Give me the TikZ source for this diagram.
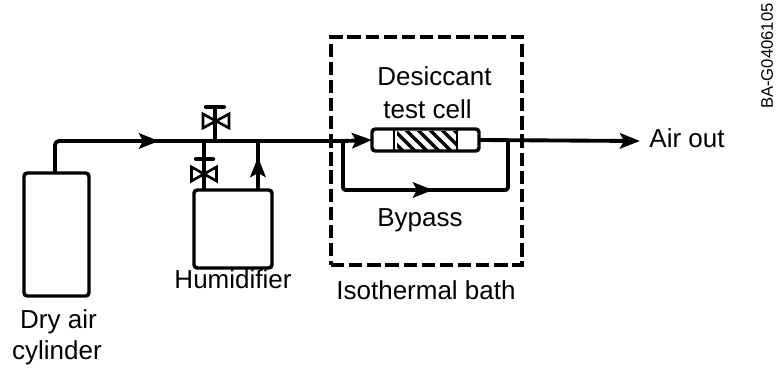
\documentclass[tikz,border=0pt]{standalone}
\usepackage{fontspec}
\setmainfont{Liberation Sans}
\usetikzlibrary{arrows.meta,calc}
\tikzset{
 pipe/.style={line width=2.9pt,line join=round},
 tipst/.style={-{Stealth[length=15pt,width=11.5pt,inset=3pt]}},
 flow/.style={pipe,tipst},
 vessel/.style={draw,line width=2.6pt,rounded corners=2.5pt,minimum width=#1,inner sep=0pt,outer sep=0pt},
 lab/.style={font=\fontsize{19.5}{24}\selectfont,anchor=base,inner sep=0pt},
 bow/.style={draw,line width=2pt,fill=white,line join=miter},
 bar/.style={line width=3.2pt,line cap=round},
 stem/.style={line width=2.6pt}
}
\begin{document}
\begin{tikzpicture}[x=0.75pt,y=-0.75pt]
\useasboundingbox (0,0) rectangle (777,371);
% dashed bath
\node[draw,line width=2.6pt,dash pattern=on 10pt off 3.6pt,minimum width=143.25pt,minimum height=171pt,inner sep=0pt] (bath) at (426.5,151) {};
% vessels
\node[vessel=48.75pt,minimum height=92.25pt] (cyl) at (56.5,234.5) {};
\node[vessel=58.5pt,minimum height=58.5pt] (hum) at (233,229) {};
% junctions
\coordinate (corner) at (55,141);
\coordinate (j0) at (343,141);
\coordinate (j1) at (508,141);
\coordinate (air) at (640,141);
\coordinate (cylTop) at (55,173);
\coordinate (j2) at (204,141);
\coordinate (j3) at (215,141);
\coordinate (j4) at (258,141);
\coordinate (h1) at (204,190);
\coordinate (h2) at (258,190);
% main pipe
\draw[pipe,rounded corners=3pt] (cylTop) -- (corner) -- (j0);
\draw[flow] (130,141) -- (159,141);
\draw[pipe] (j4) -- (h2);
\draw[flow] (h2) -- (258,157);
% cell
\node[vessel=80.25pt,minimum height=16.5pt,fill=white] (cell) at (425.5,140) {};
\begin{scope}
\clip (397,131) rectangle (457,149.5);
\foreach \h in {380,392,...,470} \draw[line width=2.4pt] (\h,128) -- (\h+24,152);
\end{scope}
\draw[line width=1.5pt] (394,130) -- (394,150) (457,130) -- (457,150);
\draw[flow] (j0) -- (cell.west);
\draw[flow] (cell.east) -- (air);
\draw[pipe,rounded corners=2pt] (j0) -- (343,190) -- (508,190) -- (j1);
\draw[flow] (400,190) -- (433,190);
% top valve
\draw[stem] (j3) -- (215,107);
\draw[bar] (206,107) -- (224,107);
\draw[bow] (203,114) -- (229,128) -- (229,114) -- (203,128) -- cycle;
% lower valve
\draw[stem] (j2) -- (h1);
\draw[bar] (196,159) -- (213,159);
\draw[bow] (191.5,167) -- (216.5,181) -- (216.5,167) -- (191.5,181) -- cycle;
% labels
\node[lab] (t1) at (434.5,85) {Desiccant};
\node[lab] (t1b) at (427.5,118) {test cell};
\node[lab] (t2) at (420,226) {Bypass};
\node[lab] (t3) at (687,147.5) {Air out};
\node[lab] (t4) at (233,288) {Humidifier};
\node[lab] (t5) at (426,299) {Isothermal bath};
\node[lab] (t6) at (58.5,328) {Dry air};
\node[lab] (t6b) at (57,359) {cylinder};
\node[rotate=90,inner sep=0pt,font=\fontsize{12.5}{14}\selectfont] (t7) at (767,56) {BA-G0406105};
\end{tikzpicture}
\end{document}
